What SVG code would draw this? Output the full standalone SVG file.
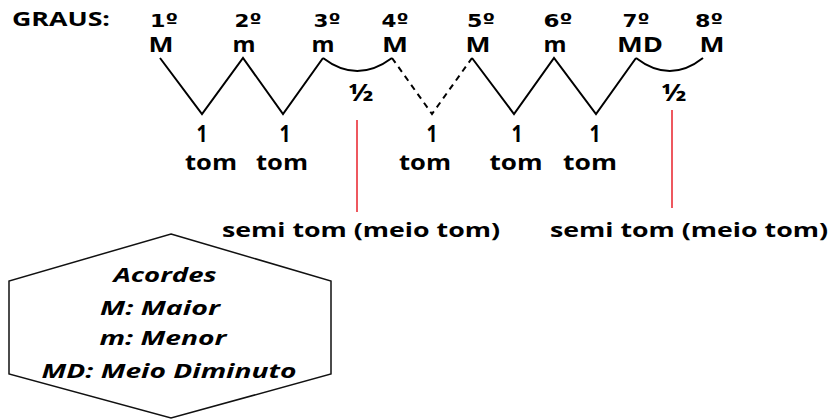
<svg xmlns="http://www.w3.org/2000/svg" width="832" height="419" viewBox="0 0 832 419">
<style>
.t{font-family:"Open Sans","Liberation Sans",sans-serif;font-weight:700;fill:#000;text-anchor:middle}
.deg{font-family:"DejaVu Sans",sans-serif;font-size:18px}
.ch{font-size:21px}
.one{font-size:23px}
.tom{font-size:21px}
.half{font-size:24px}
.semi{font-size:20px;text-anchor:start}
.leg{font-family:"Open Sans","Liberation Sans",sans-serif;font-weight:700;font-style:italic;font-size:20px;fill:#000;text-anchor:middle}
.zz{fill:none;stroke:#000;stroke-width:2;stroke-linejoin:miter}
.red{stroke:#e8202a;stroke-width:1.5}
</style>
<rect width="832" height="419" fill="#fff"/>
<g id="title"><text class="t" x="12" y="26" font-size="19" style="text-anchor:start" textLength="98" lengthAdjust="spacingAndGlyphs">GRAUS:</text></g>
<g id="degrees">
<g id="d1"><text class="t deg" x="164" y="27" textLength="28" lengthAdjust="spacingAndGlyphs">1º</text><text class="t ch" x="161" y="52" textLength="25" lengthAdjust="spacingAndGlyphs">M</text></g>
<g id="d2"><text class="t deg" x="248" y="27" textLength="27" lengthAdjust="spacingAndGlyphs">2º</text><text class="t ch" x="244" y="52" textLength="23" lengthAdjust="spacingAndGlyphs">m</text></g>
<g id="d3"><text class="t deg" x="327" y="27" textLength="27" lengthAdjust="spacingAndGlyphs">3º</text><text class="t ch" x="323" y="52" textLength="23" lengthAdjust="spacingAndGlyphs">m</text></g>
<g id="d4"><text class="t deg" x="395" y="27" textLength="27" lengthAdjust="spacingAndGlyphs">4º</text><text class="t ch" x="395" y="52" textLength="26" lengthAdjust="spacingAndGlyphs">M</text></g>
<g id="d5"><text class="t deg" x="481" y="27" textLength="28" lengthAdjust="spacingAndGlyphs">5º</text><text class="t ch" x="478" y="52" textLength="25" lengthAdjust="spacingAndGlyphs">M</text></g>
<g id="d6"><text class="t deg" x="558" y="27" textLength="29" lengthAdjust="spacingAndGlyphs">6º</text><text class="t ch" x="555" y="52" textLength="23" lengthAdjust="spacingAndGlyphs">m</text></g>
<g id="d7"><text class="t deg" x="636" y="27" textLength="27" lengthAdjust="spacingAndGlyphs">7º</text><text class="t ch" x="640" y="52" textLength="46" lengthAdjust="spacingAndGlyphs">MD</text></g>
<g id="d8"><text class="t deg" x="709" y="27" textLength="28" lengthAdjust="spacingAndGlyphs">8º</text><text class="t ch" x="712" y="52" textLength="25" lengthAdjust="spacingAndGlyphs">M</text></g>
</g>
<g id="connectors">
<path class="zz" d="M160,58 L202,114 L243,58 L283,114 L323,58"/>
<path class="zz" d="M323,58 Q357,84 392,58"/>
<path class="zz" d="M392,58 L432,114 L472,58" stroke-dasharray="6,5"/>
<path class="zz" d="M472,58 L514,114 L554,58 L596,114 L636,58"/>
<path class="zz" d="M636,58 Q670,84 703,58"/>
<line class="red" x1="357" y1="120" x2="357" y2="212"/>
<line class="red" x1="672" y1="110" x2="672" y2="208"/>
</g>
<g id="steps">
<g id="s1"><text class="t one" x="202" y="142" textLength="11" lengthAdjust="spacingAndGlyphs">1</text><text class="t tom" x="211" y="170" textLength="52" lengthAdjust="spacingAndGlyphs">tom</text></g>
<g id="s2"><text class="t one" x="285" y="142" textLength="11" lengthAdjust="spacingAndGlyphs">1</text><text class="t tom" x="282" y="170" textLength="52" lengthAdjust="spacingAndGlyphs">tom</text></g>
<g id="s3"><text class="t half" x="361" y="101" textLength="25" lengthAdjust="spacingAndGlyphs">½</text></g>
<g id="s4"><text class="t one" x="432" y="142" textLength="11" lengthAdjust="spacingAndGlyphs">1</text><text class="t tom" x="425" y="170" textLength="52" lengthAdjust="spacingAndGlyphs">tom</text></g>
<g id="s5"><text class="t one" x="517" y="142" textLength="11" lengthAdjust="spacingAndGlyphs">1</text><text class="t tom" x="516" y="170" textLength="53" lengthAdjust="spacingAndGlyphs">tom</text></g>
<g id="s6"><text class="t one" x="595" y="142" textLength="11" lengthAdjust="spacingAndGlyphs">1</text><text class="t tom" x="590" y="170" textLength="54" lengthAdjust="spacingAndGlyphs">tom</text></g>
<g id="s7"><text class="t half" x="674" y="101" textLength="25" lengthAdjust="spacingAndGlyphs">½</text></g>
</g>
<g id="semi1"><text class="t semi" x="222" y="237" textLength="278" lengthAdjust="spacingAndGlyphs">semi tom (meio tom)</text></g>
<g id="semi2"><text class="t semi" x="550" y="237" textLength="278" lengthAdjust="spacingAndGlyphs">semi tom (meio tom)</text></g>
<g id="legend">
<polygon points="171,234 331,281 331,374 171,418 9,374 9,281" fill="none" stroke="#111" stroke-width="1.5"/>
<text class="leg" x="165" y="282" textLength="103" lengthAdjust="spacingAndGlyphs">Acordes</text>
<text class="leg" x="160" y="315" textLength="120" lengthAdjust="spacingAndGlyphs">M: Maior</text>
<text class="leg" x="163" y="345" textLength="127" lengthAdjust="spacingAndGlyphs">m: Menor</text>
<text class="leg" x="169" y="378" textLength="255" lengthAdjust="spacingAndGlyphs">MD: Meio Diminuto</text>
</g>
</svg>
